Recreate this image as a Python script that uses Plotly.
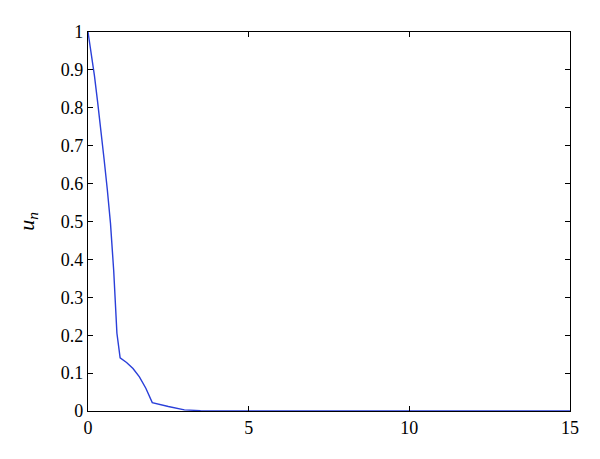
import plotly.graph_objects as go

# Data
x_vals = [0.0, 0.1, 0.2, 0.3, 0.4, 0.5, 0.6, 0.7, 0.8, 0.9, 1.0,
          1.2, 1.4, 1.6, 1.8, 2.0,
          2.5, 3.0, 3.5, 4.0, 5.0, 10.0, 15.0]
u_vals = [1.0, 0.945, 0.885, 0.815, 0.745, 0.665, 0.585, 0.495, 0.37, 0.205, 0.14,
          0.128, 0.112, 0.09, 0.06, 0.022,
          0.012, 0.003, 0.001, 0.0003, 0.0, 0.0, 0.0]

x_ticks = [0, 5, 10, 15]
y_ticks = [0, 0.1, 0.2, 0.3, 0.4, 0.5, 0.6, 0.7, 0.8, 0.9, 1]
y_tick_text = ["0", "0.1", "0.2", "0.3", "0.4", "0.5", "0.6", "0.7", "0.8", "0.9", "1"]

font_family = "Liberation Serif"

fig = go.Figure()
fig.add_trace(go.Scatter(x=x_vals, y=u_vals, mode="lines",
                         line=dict(color="#2a3fd9", width=1.4),
                         showlegend=False))

axis_common = dict(showgrid=False, zeroline=False, showline=True, linecolor="black",
                   linewidth=1.2, mirror="ticks", ticks="inside", ticklen=5,
                   tickcolor="black", tickwidth=1,
                   tickfont=dict(family=font_family, size=18, color="black"))

fig.update_layout(
    width=600, height=459,
    margin=dict(l=80, r=38, t=24, b=56),
    paper_bgcolor="white", plot_bgcolor="white",
    font=dict(family=font_family, size=18, color="black"),
    xaxis=dict(range=[0, 15], tickvals=x_ticks, **axis_common),
    yaxis=dict(range=[0, 1], tickvals=y_ticks, ticktext=y_tick_text,
               title=dict(text="<i>u<sub>n</sub></i>", font=dict(family=font_family, size=22),
                          standoff=20),
               **axis_common),
)

fig.write_html("out.html")
